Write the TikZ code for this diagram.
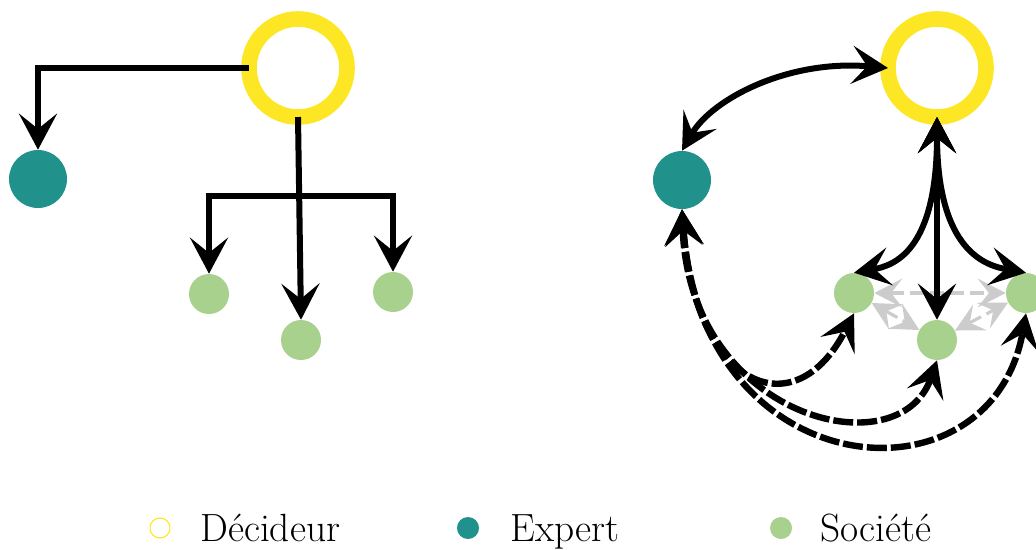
\documentclass[tikz,border=0pt]{standalone}
\usepackage{tikz}
\usetikzlibrary{arrows.meta,positioning}
\usepackage{xcolor}
\definecolor{decyellow}{HTML}{FDE725}
\definecolor{expteal}{HTML}{21918C}
\definecolor{socgreen}{HTML}{A9D18E}
\definecolor{peergray}{HTML}{CCCCCC}

\begin{document}
\begin{tikzpicture}[x=0.025cm, y=0.025cm, >={Stealth[length=0.9cm,width=0.95cm,inset=0.38cm]}]
  \tikzstyle{ring} = [circle, draw=decyellow, line width=0.39cm, minimum size=2.45cm, inner sep=0pt, outer sep=0pt]
  \tikzstyle{expert} = [circle, fill=expteal, minimum size=1.45cm, inner sep=0pt]
  \tikzstyle{soc} = [circle, fill=socgreen, minimum size=1cm, inner sep=0pt]
  \tikzstyle{flow} = [draw, line width=0.15cm, ->]
  \tikzstyle{advice} = [line width=0.16cm, dash pattern=on 0.5cm off 0.1cm]
  \tikzstyle{peer} = [draw=peergray, line width=0.08cm, dash pattern=on 0.35cm off 0.15cm, >={Stealth[length=0.7cm,width=0.72cm,inset=0.28cm]}, <->]
  \tikzstyle{lbl} = [anchor=base west, inner sep=0pt, font=\fontsize{28}{33}\selectfont]

  \useasboundingbox (0,0) rectangle (1036,-549);

  \node[ring] (d1) at (298,-68) {};
  \node[expert] (e1) at (38,-179) {};
  \node[soc] (s1a) at (209,-294) {};
  \node[soc] (s1b) at (301,-340) {};
  \node[soc] (s1c) at (393,-292) {};
  \coordinate (fork) at (298,-196);

  \path[flow] (d1.west) -| (e1.north);
  \path[flow] (d1.south) -- (s1b.north);
  \path[flow] (fork) -| (s1a.north);
  \path[flow] (fork) -| (s1c.north);

  \node[ring] (d2) at (937,-68) {};
  \node[expert] (e2) at (682,-180) {};
  \node[soc] (s2a) at (854,-293) {};
  \node[soc] (s2b) at (937,-340) {};
  \node[soc] (s2c) at (1026,-293) {};

  \path[peer] (s2a) -- (s2c);
  \path[peer] (s2a) -- (s2b);
  \path[peer] (s2b) -- (s2c);

  \path[flow, <->] (e2.north) .. controls +(60:60) and +(175:100) .. (d2.west);
  \path[flow, <->] (d2.south) -- (s2b.north);
  \path[flow, <->] (d2.south) .. controls +(-90:135) and +(10:40) .. (s2a.north);
  \path[flow, <->] (d2.south) .. controls +(-90:135) and +(170:40) .. (s2c.north);
  \path[flow, <->, advice] (e2.south) .. controls +(-86:180) and +(-117:130) .. (s2a.south);
  \path[flow, <->, advice] (e2.south) .. controls +(-88:210) and +(-109:116) .. (s2b.south);
  \path[flow, <->, advice] (e2.south) .. controls +(-86:280) and +(-100:200) .. (s2c.south);

  \node[circle, draw=decyellow, line width=0.8pt, minimum size=0.5cm, inner sep=0pt] (lg1) at (160,-528) {};
  \node[circle, fill=expteal, minimum size=0.55cm, inner sep=0pt] (lg2) at (468,-528) {};
  \node[circle, fill=socgreen, minimum size=0.55cm, inner sep=0pt] (lg3) at (781,-528) {};
  \node[lbl] (t1) at (200,-541) {Décideur};
  \node[lbl] (t2) at (510,-541) {Expert};
  \node[lbl] (t3) at (820,-541) {Société};
\end{tikzpicture}
\end{document}
